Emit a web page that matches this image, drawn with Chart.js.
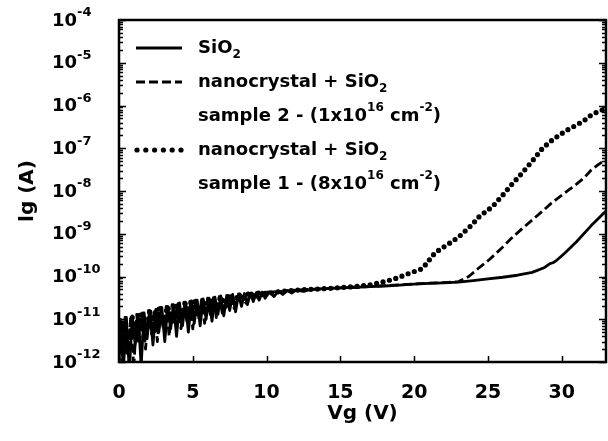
<!DOCTYPE html>
<html>
<head>
<meta charset="utf-8">
<script src="https://cdn.jsdelivr.net/npm/chart.js@4.4.1/dist/chart.umd.min.js"></script>
<style>
  html, body { margin: 0; padding: 0; background: #fff; }
  #wrap { width: 608px; height: 441px; }
</style>
</head>
<body>
<div id="wrap"><canvas id="iv-chart" width="608" height="441"></canvas></div>
<script>
// gate voltage Vg (V) and gate current Ig (A)
const sio2V = [0, 0.1, 0.3, 0.5, 0.7, 0.9, 1.1, 1.3, 1.5, 1.7, 1.9, 2.1, 2.3, 2.5, 2.7, 2.9, 3.1, 3.3, 3.5, 3.7,
  3.9, 4.1, 4.3, 4.5, 4.7, 4.9, 5.1, 5.3, 5.5, 5.7, 5.9, 6.1, 6.3, 6.5, 6.7, 6.9, 7.1, 7.3, 7.5, 7.7,
  7.9, 8.1, 8.3, 8.5, 8.7, 8.9, 9.1, 9.3, 9.5, 9.7, 9.9, 10.2, 10.5, 10.8, 11.1, 11.4, 11.7, 12, 12.5, 13,
  14, 15, 16, 17, 18, 19, 20, 21, 22, 23, 24, 25, 26, 27, 28, 28.8, 29.2, 29.4, 29.6, 30.2, 31, 32, 33];
const sio2I = [8e-13, 1.0e-11, 7e-13, 1.1e-11, 6e-13, 1.2e-11, 2.5e-12, 1.3e-11, 8e-13, 1.4e-11, 3.5e-12, 1.6e-11, 2.5e-12, 1.7e-11, 5e-12, 1.9e-11, 3e-12, 2.0e-11, 6e-12, 2.2e-11,
  4e-12, 2.4e-11, 7e-12, 2.5e-11, 5e-12, 2.7e-11, 8e-12, 2.8e-11, 7e-12, 3.0e-11, 1.0e-11, 3.1e-11, 9e-12, 3.3e-11, 1.3e-11, 3.5e-11, 1.2e-11, 3.6e-11, 1.6e-11, 3.8e-11,
  1.5e-11, 3.9e-11, 2.0e-11, 4.0e-11, 2.2e-11, 4.1e-11, 2.6e-11, 4.2e-11, 2.8e-11, 4.3e-11, 3.1e-11, 4.4e-11, 3.4e-11, 4.6e-11, 3.8e-11, 4.7e-11, 4.1e-11, 4.8e-11, 4.5e-11, 5.0e-11,
  5.2e-11, 5.4e-11, 5.6e-11, 5.8e-11, 6.0e-11, 6.3e-11, 6.6e-11, 6.9e-11, 7.1e-11, 7.4e-11, 8.0e-11, 8.8e-11, 9.6e-11, 1.07e-10, 1.25e-10, 1.6e-10, 2.0e-10, 2.1e-10, 2.3e-10, 3.5e-10, 6.5e-10, 1.55e-9, 3.4e-9];

const sample2V = [0, 0.2, 0.4, 0.6, 0.8, 1.0, 1.2, 1.4, 1.6, 1.8, 2.0, 2.2, 2.4, 2.6, 2.8, 3.0, 3.2, 3.4, 3.6, 3.8,
  4.0, 4.2, 4.4, 4.6, 4.8, 5.0, 5.2, 5.4, 5.6, 5.8, 6.0, 6.2, 6.4, 6.6, 6.8, 7.0, 7.4, 7.8, 8.2, 8.6,
  9.0, 9.5, 10, 11, 12, 13, 14, 15, 16, 17, 18, 19, 20, 21, 22, 23, 23.7, 24.4, 25.1, 25.9,
  26.6, 27.3, 28, 28.7, 29.3, 29.9, 30.5, 31, 31.5, 32, 32.5, 33];
const sample2I = [1.0e-11, 9e-13, 1.1e-11, 1.5e-12, 1.2e-11, 7e-13, 1.3e-11, 3e-12, 1.4e-11, 2e-12, 1.6e-11, 4.5e-12, 1.7e-11, 3e-12, 1.9e-11, 6e-12, 2.0e-11, 4e-12, 2.2e-11, 8e-12,
  2.3e-11, 6e-12, 2.5e-11, 9e-12, 2.6e-11, 6e-12, 2.8e-11, 1.0e-11, 2.9e-11, 8e-12, 3.1e-11, 1.2e-11, 3.2e-11, 1.1e-11, 3.4e-11, 1.4e-11, 3.6e-11, 1.8e-11, 3.9e-11, 2.4e-11,
  4.1e-11, 3.0e-11, 4.3e-11, 4.5e-11, 4.8e-11, 5.0e-11, 5.2e-11, 5.4e-11, 5.6e-11, 5.8e-11, 6.1e-11, 6.4e-11, 6.7e-11, 7.0e-11, 7.2e-11, 7.6e-11, 1.0e-10, 1.6e-10, 2.5e-10, 4.5e-10,
  7.9e-10, 1.3e-9, 2.1e-9, 3.4e-9, 5.2e-9, 7.5e-9, 1.07e-8, 1.45e-8, 2.0e-8, 3.1e-8, 4.2e-8, 5.5e-8];

const sample1V = [0, 0.3, 0.6, 0.9, 1.2, 1.5, 1.8, 2.1, 2.4, 2.7, 3.0, 3.3, 3.6, 3.9, 4.2, 4.5, 4.8, 5.1, 5.4, 5.7,
  6.0, 6.3, 6.6, 6.9, 7.2, 7.5, 7.8, 8.1, 8.4, 8.7, 9.0, 9.5, 10, 11, 12, 13, 14, 15, 16, 17,
  18, 18.8, 19.7, 20.5, 20.9, 21.2, 21.7, 22.4, 23, 23.9, 24.4, 25.3, 26, 26.6, 27.3, 28, 28.7, 29.3, 29.8, 30.4,
  31, 31.5, 32, 32.5, 33];
const sample1I = [2e-12, 9e-12, 1.5e-12, 1.1e-11, 3e-12, 1.3e-11, 4e-12, 1.5e-11, 5e-12, 1.8e-11, 7e-12, 2.0e-11, 8e-12, 2.2e-11, 1.0e-11, 2.4e-11, 1.1e-11, 2.6e-11, 1.3e-11, 2.9e-11,
  1.5e-11, 3.1e-11, 1.7e-11, 3.4e-11, 2.0e-11, 3.6e-11, 2.4e-11, 3.8e-11, 2.8e-11, 4.0e-11, 3.2e-11, 4.2e-11, 4.0e-11, 4.5e-11, 4.8e-11, 5.0e-11, 5.2e-11, 5.5e-11, 5.8e-11, 6.4e-11,
  7.6e-11, 9.1e-11, 1.2e-10, 1.5e-10, 2.1e-10, 3.0e-10, 4.2e-10, 6.0e-10, 8.3e-10, 1.6e-9, 2.5e-9, 4.3e-9, 8.0e-9, 1.4e-8, 2.6e-8, 5.0e-8, 1.0e-7, 1.5e-7, 2.0e-7, 2.7e-7,
  3.5e-7, 4.4e-7, 6.0e-7, 7.3e-7, 8.5e-7];

const xTicks = [0, 5, 10, 15, 20, 25, 30];
const yTickExponents = [-4, -5, -6, -7, -8, -9, -10, -11, -12];

// legend rows: pieces of text, '' = normal, 'sub' / 'sup' = lowered / raised
const legendRows = [
  [['SiO', ''], ['2', 'sub']],
  [['nanocrystal + SiO', ''], ['2', 'sub']],
  [['sample 2 - (1x10', ''], ['16', 'sup'], [' cm', ''], ['-2', 'sup'], [')', '']],
  [['nanocrystal + SiO', ''], ['2', 'sub']],
  [['sample 1 - (8x10', ''], ['16', 'sup'], [' cm', ''], ['-2', 'sup'], [')', '']]
];
const legendSwatch = [0, 1, null, 2, null]; // dataset drawn next to each legend row

const FONT = '"DejaVu Sans", sans-serif';

const toPoints = (xs, ys) => xs.map((x, i) => ({ x, y: ys[i] }));

function drawRich(ctx, x, y, parts, size) {
  for (const [t, kind] of parts) {
    const s = kind ? Math.round(size * 0.66) : size;
    ctx.font = `bold ${s}px ${FONT}`;
    const dy = kind === 'sup' ? -size * 0.45 : kind === 'sub' ? size * 0.38 : 0;
    ctx.fillText(t, x, y + dy);
    x += ctx.measureText(t).width;
  }
  return x;
}

const framePlugin = {
  id: 'frame',
  afterDraw(chart) {
    const { ctx, chartArea: a, scales: { x, y } } = chart;
    ctx.save();
    ctx.strokeStyle = '#000';
    ctx.fillStyle = '#000';

    // frame
    ctx.lineWidth = 2.5;
    ctx.strokeRect(a.left, a.top, a.right - a.left, a.bottom - a.top);

    // y ticks (major + log minor), inward on both sides
    ctx.lineWidth = 1.5;
    ctx.beginPath();
    for (let e = -12; e <= -4; e++) {
      for (let k = 1; k <= 9; k++) {
        if (e === -4 && k > 1) break;
        const py = Math.round(y.getPixelForValue(k * Math.pow(10, e))) + 0.5;
        const len = k === 1 ? 7 : 4;
        ctx.moveTo(a.left, py); ctx.lineTo(a.left + len, py);
        ctx.moveTo(a.right, py); ctx.lineTo(a.right - len, py);
      }
    }
    // x ticks, inward
    xTicks.forEach(v => {
      const px = Math.round(x.getPixelForValue(v)) + 0.5;
      ctx.moveTo(px, a.bottom); ctx.lineTo(px, a.bottom - 6);
    });
    ctx.stroke();

    // y tick labels 10^n
    ctx.textBaseline = 'middle';
    ctx.textAlign = 'left';
    yTickExponents.forEach(e => {
      const py = y.getPixelForValue(Math.pow(10, e));
      ctx.font = `bold 18px ${FONT}`;
      ctx.fillText('10', 52, py + 1);
      const w = ctx.measureText('10').width;
      ctx.font = `bold 13px ${FONT}`;
      ctx.fillText(String(e), 52 + w, py - 7);
    });

    // legend
    legendRows.forEach((parts, i) => {
      const ry = 48 + i * 34;
      const di = legendSwatch[i];
      if (di !== null) {
        const ds = chart.data.datasets[di];
        ctx.save();
        ctx.lineWidth = ds.borderWidth;
        ctx.lineCap = ds.borderCapStyle || 'butt';
        const dash = ds.borderDash || [];
        ctx.setLineDash(dash.length && dash[0] === 0 ? [0, 8.8] : dash);
        ctx.beginPath();
        ctx.moveTo(dash.length && dash[0] === 0 ? 137 : 136, ry);
        ctx.lineTo(182, ry);
        ctx.stroke();
        ctx.restore();
      }
      drawRich(ctx, 198, ry, parts, 18);
    });
    ctx.restore();
  }
};

new Chart(document.getElementById('iv-chart'), {
  type: 'line',
  data: {
    datasets: [
      {
        label: 'SiO2',
        data: toPoints(sio2V, sio2I),
        borderColor: '#000',
        borderWidth: 2.8,
        borderJoinStyle: 'round',
        pointRadius: 0
      },
      {
        label: 'nanocrystal + SiO2 sample 2',
        data: toPoints(sample2V, sample2I),
        borderColor: '#000',
        borderWidth: 2.8,
        borderJoinStyle: 'round',
        borderDash: [9, 4],
        pointRadius: 0
      },
      {
        label: 'nanocrystal + SiO2 sample 1',
        data: toPoints(sample1V, sample1I),
        borderColor: '#000',
        borderWidth: 5.2,
        borderDash: [0, 6.6],
        borderCapStyle: 'round',
        borderJoinStyle: 'round',
        pointRadius: 0
      }
    ]
  },
  options: {
    responsive: false,
    animation: false,
    devicePixelRatio: 1,
    layout: { padding: { top: 20, right: 2, left: 0, bottom: 0 } },
    plugins: { legend: { display: false }, tooltip: { enabled: false } },
    scales: {
      x: {
        type: 'linear',
        min: 0,
        max: 33,
        afterBuildTicks: s => { s.ticks = xTicks.map(v => ({ value: v })); },
        ticks: { color: '#000', font: { family: FONT, size: 19, weight: 'bold' }, padding: 20 },
        grid: { display: false, drawTicks: false },
        border: { display: false },
        title: { display: true, text: 'Vg (V)', color: '#000', font: { family: FONT, size: 20, weight: 'bold' }, padding: { bottom: 15 } },
        afterFit: s => { s.height = 79; }
      },
      y: {
        type: 'logarithmic',
        min: 1e-12,
        max: 1e-4,
        ticks: { display: false },
        grid: { display: false, drawTicks: false },
        border: { display: false },
        title: { display: true, text: 'lg (A)', color: '#000', font: { family: FONT, size: 20, weight: 'bold' }, padding: { top: 16 } },
        afterFit: s => { s.width = 119; }
      }
    }
  },
  plugins: [framePlugin]
});
</script>
</body>
</html>
